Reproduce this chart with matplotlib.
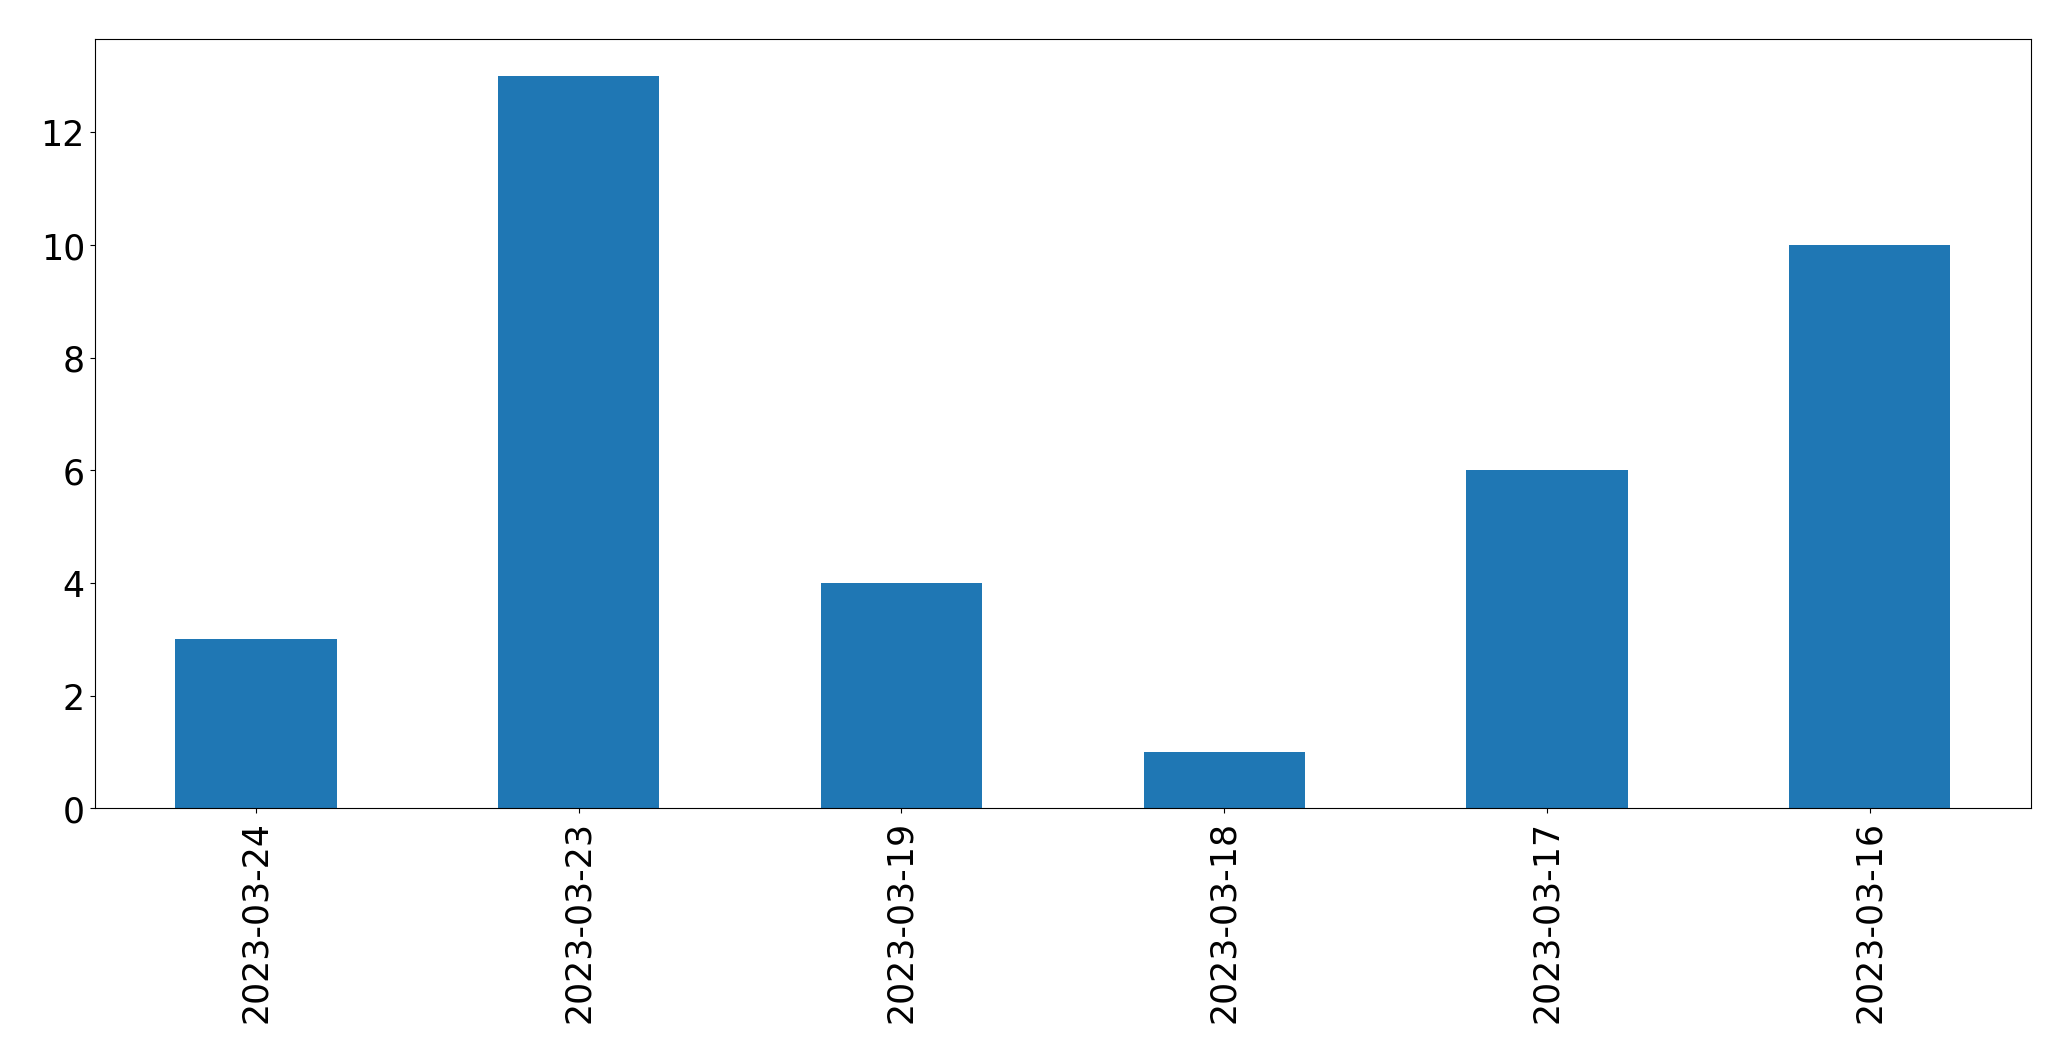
import matplotlib
matplotlib.use("Agg")
import matplotlib.pyplot as plt
import numpy as np

dates = ['2023-03-24', '2023-03-23', '2023-03-19', '2023-03-18', '2023-03-17', '2023-03-16']
counts = [3, 13, 4, 1, 6, 10]

fig = plt.figure(figsize=(20.71, 10.605), dpi=100)
ax = fig.add_axes([0.0457, 0.2373, 0.935, 0.7250])

x = np.arange(len(dates))
ax.bar(x, counts, width=0.5, color='#1f77b4')
ax.set_xlim(-0.5, len(dates) - 0.5)
ax.set_xticks(x)
ax.set_xticklabels(dates, rotation=90)
ax.tick_params(axis='both', labelsize=25)
ax.tick_params(axis='x', pad=5)

fig.savefig('out.png', dpi=100)
